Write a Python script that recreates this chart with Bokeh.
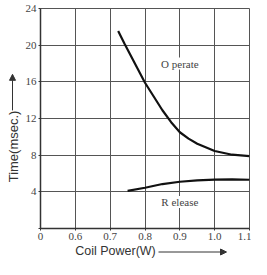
from math import pi
from bokeh.plotting import figure
from bokeh.layouts import row, column
from bokeh.models import FixedTicker, Label, Arrow, NormalHead, Range1d
from bokeh.core.properties import value
from bokeh.embed import file_html
from bokeh.resources import INLINE

# Data (x axis is broken: first tick "0" sits at 0.5)
x_ticks = [0.5, 0.6, 0.7, 0.8, 0.9, 1.0, 1.1]
x_tick_labels = ["0", "0.6", "0.7", "0.8", "0.9", "1.0", "1.1"]
y_ticks = [0, 4, 8, 12, 16, 20, 24]
y_tick_labels = ["", "4", "8", "12", "16", "20", "24"]

operate_power = [0.723, 0.742, 0.8, 0.85, 0.875, 0.9, 0.925, 0.95, 1.0, 1.05, 1.1]
operate_time = [21.55, 20.1, 15.9, 12.9, 11.6, 10.5, 9.8, 9.25, 8.45, 8.05, 7.9]

release_power = [0.75, 0.8, 0.85, 0.9, 0.95, 1.0, 1.05, 1.1]
release_time = [4.1, 4.45, 4.85, 5.1, 5.25, 5.33, 5.36, 5.32]

x_title = "Coil Power(W)"
y_title = "Time(msec.)"

GRID = "#555555"
TXT = "#444444"
DARK = "#333333"

MAIN_W, MAIN_H = 229, 244
LEFT_W = 22
BOTTOM_H = 15

p = figure(width=MAIN_W, height=MAIN_H, x_range=Range1d(0.5, 1.1), y_range=Range1d(0, 24),
           output_backend="svg", toolbar_location=None,
           min_border_left=16, min_border_right=2, min_border_top=8, min_border_bottom=16)
p.background_fill_color = "white"
p.border_fill_color = "white"
p.outline_line_color = GRID
p.outline_line_width = 1

for ax, ticks, labels in ((p.xaxis[0], x_ticks, x_tick_labels), (p.yaxis[0], y_ticks, y_tick_labels)):
    ax.ticker = FixedTicker(ticks=ticks)
    ax.major_label_overrides = {t: l for t, l in zip(ticks, labels)}
    ax.major_label_text_font = "Liberation Serif"
    ax.major_label_text_font_size = "11px"
    ax.major_label_text_color = TXT
    ax.axis_line_color = "#333333"
    ax.axis_line_width = 1.5
    ax.major_tick_in = 0
    ax.major_tick_out = 2
    ax.major_tick_line_color = "#333333"
    ax.minor_tick_line_color = None
    ax.major_label_standoff = 2

p.xgrid.ticker = FixedTicker(ticks=x_ticks)
p.ygrid.ticker = FixedTicker(ticks=y_ticks)
for g in (p.xgrid[0], p.ygrid[0]):
    g.grid_line_color = GRID
    g.grid_line_width = 1
    g.grid_line_alpha = 1

p.line(operate_power, operate_time, line_color="#111111", line_width=2.2)
p.line(release_power, release_time, line_color="#111111", line_width=2.2)

p.add_layout(Label(x=0.9, y=18.0, text="O perate", text_font="Liberation Serif",
                   text_font_size="11px", text_color=TXT, text_align="center",
                   text_baseline="middle", background_fill_color="white"))
p.add_layout(Label(x=0.9, y=2.9, text="R elease", text_font="Liberation Serif",
                   text_font_size="11px", text_color=TXT, text_align="center",
                   text_baseline="middle", background_fill_color="white"))


def strip(w, h):
    f = figure(width=w, height=h, x_range=Range1d(0, w), y_range=Range1d(0, h),
               x_axis_type=None, y_axis_type=None, output_backend="svg",
               toolbar_location=None, min_border=0)
    f.outline_line_color = None
    f.grid.visible = False
    f.background_fill_color = "white"
    f.border_fill_color = "white"
    return f


# left strip: vertical axis title with upward arrow
yf = strip(LEFT_W, MAIN_H)
yf.text(x=[13], y=[MAIN_H - 153], text=[y_title], angle=pi / 2,
        text_font=value("Liberation Sans"), text_font_size="13px", text_color=DARK,
        text_align="center", text_baseline="middle")
yf.add_layout(Arrow(x_start=12, y_start=MAIN_H - 113, x_end=12, y_end=MAIN_H - 73,
                    line_color=DARK, line_width=1,
                    end=NormalHead(size=6, fill_color=DARK, line_color=DARK)))

# bottom strip: horizontal axis title with right arrow
TOTAL_W = LEFT_W + MAIN_W
xf = strip(TOTAL_W, BOTTOM_H)
xf.text(x=[115], y=[BOTTOM_H / 2 + 1], text=[x_title],
        text_font=value("Liberation Sans"), text_font_size="12.5px", text_color=DARK,
        text_align="center", text_baseline="middle")
xf.add_layout(Arrow(x_start=158, y_start=BOTTOM_H / 2, x_end=226, y_end=BOTTOM_H / 2,
                    line_color=DARK, line_width=1,
                    end=NormalHead(size=6, fill_color=DARK, line_color=DARK)))

layout = column(row(yf, p), xf)
open("out.html", "w").write(file_html(layout, INLINE))
